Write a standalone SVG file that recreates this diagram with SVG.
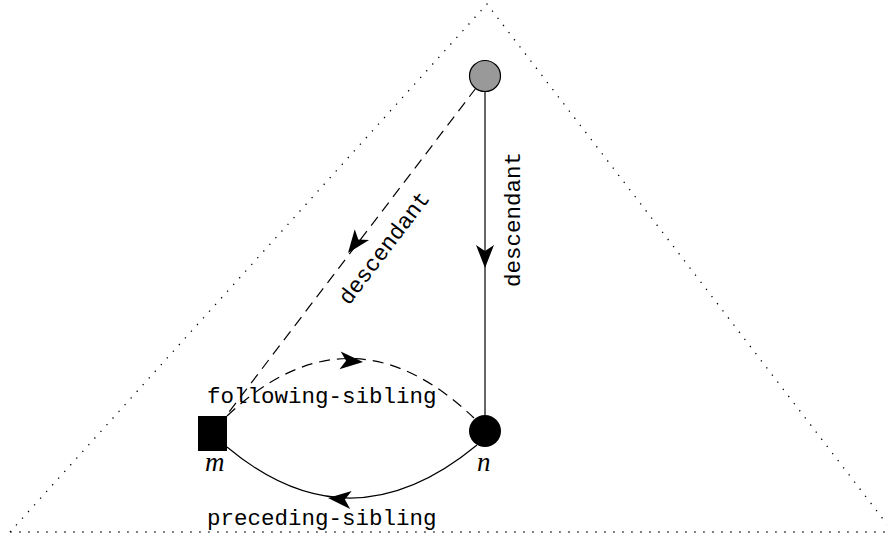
<svg xmlns="http://www.w3.org/2000/svg" xmlns:xlink="http://www.w3.org/1999/xlink" width="887" height="539" viewBox="0 0 887 539">
<style>
.mono{font-family:"Liberation Mono","Courier New",monospace;font-size:22.5px;fill:#000}
.it{font-family:"Liberation Serif","Times New Roman",serif;font-style:italic;font-size:27px;fill:#000}
.solid{fill:none;stroke:#000;stroke-width:1.2}
.dash{fill:none;stroke:#000;stroke-width:1.2;stroke-dasharray:11 7}
.dot{fill:none;stroke:#000;stroke-width:1.3;stroke-dasharray:1.3 7.7}
.ah{fill:#000;stroke:none}
</style>
<defs>
<path id="ah" class="ah" d="M0,0 L-23,-9 L-17,0 L-23,9 Z"/>
</defs>
<g id="tree">
<path class="dot" d="M10,532 L487,4 L893,532 Z"/>
</g>
<g id="connectors">
<path class="solid" d="M485,91 L485,415"/>
<use xlink:href="#ah" transform="translate(485,268) rotate(90)"/>
<path class="dash" d="M476,88 L226,416"/>
<use xlink:href="#ah" transform="translate(348,253) rotate(127.2)"/>
<path class="dash" d="M227,416 Q350,300 474,418"/>
<use xlink:href="#ah" transform="translate(363,362) rotate(4)"/>
<path class="solid" d="M227,447 Q350,550 477,445"/>
<use xlink:href="#ah" transform="translate(328,498) rotate(185)"/>
<text class="mono" transform="translate(520,287) rotate(-90)">descendant</text>
<text class="mono" transform="translate(349,306) rotate(-52.8)">descendant</text>
<text class="mono" x="207" y="403">following-sibling</text>
<text class="mono" x="207" y="525">preceding-sibling</text>
</g>
<g id="root">
<circle cx="485" cy="76" r="15.5" fill="#999" stroke="#000" stroke-width="1.2"/>
</g>
<g id="n">
<circle cx="485" cy="431" r="16" fill="#000"/>
<text class="it" x="477" y="471">n</text>
</g>
<g id="m">
<rect x="198" y="416" width="29" height="35" fill="#000"/>
<text class="it" x="205" y="471">m</text>
</g>
</svg>
